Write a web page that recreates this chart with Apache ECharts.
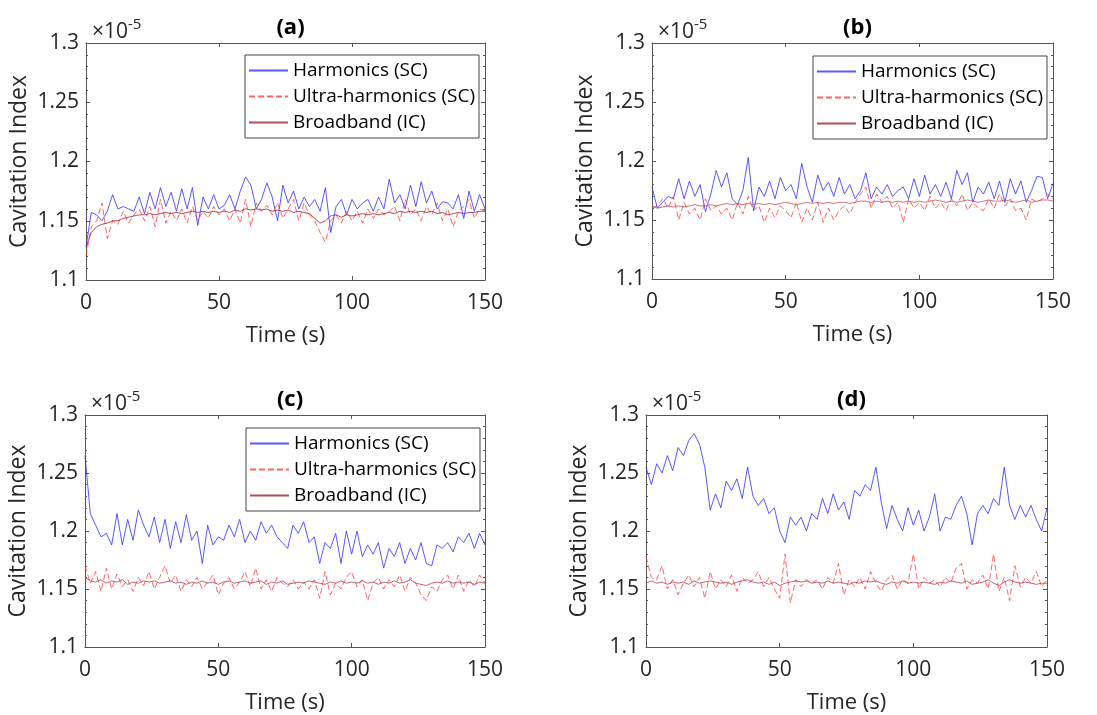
<!DOCTYPE html>
<html>
<head>
<meta charset="utf-8">
<script src="https://cdn.jsdelivr.net/npm/echarts@6/dist/echarts.min.js"></script>
<style>
html,body{margin:0;padding:0;background:#fff;}
#chart{width:1097px;height:715px;}
</style>
</head>
<body>
<div id="chart"></div>
<script>
// ---------- DATA (values in units of 1e-5) ----------
const time = [0,2,4,6,8,10,12,14,16,18,
  20,22,24,26,28,30,32,34,36,38,
  40,42,44,46,48,50,52,54,56,58,
  60,62,64,66,68,70,72,74,76,78,
  80,82,84,86,88,90,92,94,96,98,
  100,102,104,106,108,110,112,114,116,118,
  120,122,124,126,128,130,132,134,136,138,
  140,142,144,146,148,150];

const xTicks = [0, 50, 100, 150];
const yTicks = [1.1, 1.15, 1.2, 1.25, 1.3];
const seriesNames = ['Harmonics (SC)', 'Ultra-harmonics (SC)', 'Broadband (IC)'];
const panelTitles = ['(a)', '(b)', '(c)', '(d)'];

// Panel (a)
const harmA = [1.128,1.157,1.155,1.150,1.158,1.172,1.160,1.162,1.160,1.158,
  1.170,1.156,1.174,1.160,1.178,1.162,1.174,1.158,1.177,1.160,
  1.178,1.146,1.170,1.160,1.172,1.160,1.163,1.172,1.160,1.175,
  1.187,1.180,1.160,1.168,1.182,1.170,1.150,1.180,1.165,1.175,
  1.160,1.170,1.162,1.168,1.158,1.178,1.140,1.162,1.168,1.155,
  1.168,1.160,1.165,1.168,1.158,1.170,1.160,1.185,1.165,1.172,
  1.160,1.180,1.162,1.183,1.165,1.175,1.160,1.166,1.165,1.160,
  1.172,1.152,1.175,1.158,1.172,1.160];
const ultraA = [1.120,1.145,1.150,1.165,1.135,1.150,1.147,1.158,1.148,1.155,
  1.160,1.150,1.162,1.145,1.168,1.148,1.158,1.150,1.160,1.148,
  1.162,1.150,1.158,1.152,1.162,1.155,1.160,1.150,1.160,1.148,
  1.168,1.145,1.165,1.158,1.163,1.155,1.165,1.152,1.160,1.168,
  1.150,1.165,1.155,1.150,1.140,1.132,1.150,1.155,1.148,1.158,
  1.150,1.158,1.148,1.160,1.152,1.160,1.155,1.158,1.162,1.150,
  1.168,1.155,1.160,1.150,1.162,1.155,1.165,1.150,1.160,1.145,
  1.158,1.162,1.168,1.152,1.160,1.158];
const broadA = [1.128,1.140,1.145,1.147,1.148,1.150,1.150,1.152,1.153,1.154,
  1.155,1.155,1.156,1.155,1.156,1.157,1.156,1.157,1.156,1.157,
  1.158,1.157,1.158,1.157,1.158,1.157,1.158,1.157,1.159,1.158,
  1.160,1.159,1.160,1.159,1.160,1.158,1.159,1.158,1.159,1.157,
  1.158,1.157,1.156,1.152,1.148,1.150,1.154,1.155,1.153,1.155,
  1.154,1.155,1.156,1.155,1.156,1.155,1.156,1.157,1.156,1.158,
  1.157,1.158,1.157,1.158,1.157,1.158,1.156,1.157,1.155,1.156,
  1.157,1.156,1.157,1.157,1.158,1.158];

// Panel (b)
const harmB = [1.178,1.160,1.165,1.170,1.168,1.185,1.168,1.183,1.170,1.180,
  1.157,1.172,1.192,1.178,1.190,1.168,1.163,1.175,1.203,1.158,
  1.178,1.170,1.183,1.168,1.186,1.175,1.180,1.168,1.198,1.178,
  1.165,1.188,1.175,1.182,1.170,1.186,1.172,1.180,1.168,1.175,
  1.190,1.168,1.178,1.172,1.180,1.170,1.175,1.178,1.168,1.185,
  1.170,1.188,1.172,1.180,1.170,1.182,1.168,1.192,1.180,1.190,
  1.165,1.178,1.172,1.182,1.168,1.183,1.165,1.185,1.172,1.183,
  1.165,1.175,1.187,1.186,1.168,1.181];
const ultraB = [1.160,1.162,1.168,1.160,1.170,1.150,1.165,1.155,1.160,1.150,
  1.168,1.158,1.162,1.155,1.160,1.150,1.165,1.155,1.170,1.158,
  1.162,1.148,1.160,1.152,1.162,1.158,1.152,1.165,1.148,1.160,
  1.150,1.165,1.148,1.160,1.150,1.158,1.162,1.155,1.165,1.172,
  1.178,1.160,1.172,1.165,1.170,1.160,1.165,1.148,1.168,1.160,
  1.165,1.158,1.170,1.160,1.165,1.158,1.168,1.162,1.172,1.158,
  1.165,1.160,1.158,1.168,1.160,1.172,1.162,1.168,1.158,1.160,
  1.150,1.168,1.165,1.168,1.172,1.168];
const broadB = [1.162,1.160,1.161,1.162,1.161,1.162,1.161,1.162,1.163,1.162,
  1.162,1.163,1.162,1.163,1.164,1.163,1.164,1.163,1.164,1.163,
  1.164,1.163,1.164,1.163,1.164,1.165,1.164,1.163,1.164,1.165,
  1.164,1.165,1.164,1.165,1.164,1.165,1.165,1.164,1.165,1.166,
  1.166,1.165,1.166,1.165,1.166,1.165,1.166,1.165,1.166,1.165,
  1.166,1.165,1.166,1.167,1.166,1.165,1.166,1.165,1.166,1.167,
  1.166,1.165,1.166,1.167,1.166,1.166,1.167,1.166,1.165,1.166,
  1.167,1.165,1.166,1.167,1.167,1.166];

// Panel (c)
const harmC = [1.265,1.215,1.205,1.195,1.198,1.188,1.215,1.188,1.210,1.192,
  1.218,1.205,1.195,1.212,1.190,1.210,1.185,1.208,1.190,1.214,
  1.192,1.200,1.172,1.205,1.188,1.195,1.192,1.205,1.195,1.210,
  1.190,1.200,1.192,1.208,1.198,1.205,1.195,1.190,1.185,1.205,
  1.198,1.208,1.190,1.195,1.172,1.190,1.185,1.198,1.172,1.200,
  1.180,1.200,1.178,1.188,1.180,1.190,1.168,1.185,1.178,1.190,
  1.172,1.185,1.175,1.190,1.172,1.170,1.188,1.185,1.190,1.182,
  1.195,1.190,1.198,1.185,1.198,1.188];
const ultraC = [1.170,1.155,1.165,1.148,1.168,1.150,1.163,1.152,1.158,1.148,
  1.160,1.153,1.165,1.150,1.160,1.170,1.155,1.162,1.148,1.158,
  1.152,1.160,1.150,1.156,1.162,1.145,1.155,1.160,1.150,1.156,
  1.165,1.152,1.168,1.150,1.158,1.148,1.160,1.155,1.152,1.158,
  1.150,1.156,1.150,1.158,1.142,1.165,1.145,1.155,1.150,1.160,
  1.165,1.152,1.158,1.140,1.155,1.160,1.150,1.158,1.152,1.162,
  1.148,1.160,1.155,1.145,1.140,1.152,1.148,1.158,1.162,1.150,
  1.162,1.148,1.158,1.152,1.162,1.155];
const broadC = [1.160,1.157,1.156,1.158,1.155,1.157,1.156,1.158,1.154,1.156,
  1.155,1.157,1.156,1.157,1.155,1.156,1.157,1.155,1.156,1.154,
  1.156,1.155,1.157,1.155,1.156,1.154,1.156,1.157,1.155,1.156,
  1.157,1.155,1.156,1.157,1.154,1.156,1.155,1.157,1.154,1.155,
  1.156,1.155,1.157,1.156,1.155,1.154,1.156,1.155,1.157,1.155,
  1.156,1.155,1.157,1.155,1.156,1.154,1.156,1.155,1.157,1.155,
  1.156,1.158,1.155,1.154,1.153,1.155,1.156,1.155,1.157,1.155,
  1.156,1.155,1.156,1.154,1.156,1.155];

// Panel (d)
const harmD = [1.255,1.240,1.258,1.250,1.265,1.252,1.272,1.265,1.278,1.284,
  1.275,1.255,1.218,1.232,1.220,1.243,1.235,1.245,1.228,1.255,
  1.230,1.222,1.228,1.215,1.220,1.200,1.190,1.212,1.205,1.212,
  1.200,1.215,1.210,1.228,1.215,1.232,1.218,1.225,1.210,1.235,
  1.230,1.240,1.235,1.255,1.225,1.202,1.222,1.210,1.200,1.220,
  1.205,1.218,1.200,1.212,1.232,1.200,1.212,1.210,1.222,1.230,
  1.215,1.188,1.215,1.222,1.215,1.228,1.222,1.255,1.222,1.210,
  1.222,1.212,1.222,1.210,1.200,1.220];
const ultraD = [1.178,1.160,1.158,1.170,1.150,1.158,1.145,1.155,1.162,1.152,
  1.160,1.142,1.165,1.150,1.158,1.152,1.162,1.148,1.160,1.155,
  1.158,1.165,1.152,1.160,1.150,1.142,1.180,1.138,1.158,1.152,
  1.158,1.155,1.158,1.150,1.160,1.155,1.172,1.145,1.158,1.152,
  1.160,1.150,1.165,1.155,1.148,1.158,1.162,1.150,1.158,1.155,
  1.180,1.150,1.160,1.155,1.158,1.152,1.160,1.155,1.168,1.172,
  1.150,1.158,1.155,1.162,1.150,1.180,1.148,1.160,1.140,1.170,
  1.152,1.160,1.155,1.165,1.152,1.158];
const broadD = [1.155,1.157,1.155,1.156,1.154,1.156,1.155,1.156,1.154,1.157,
  1.155,1.156,1.157,1.156,1.155,1.156,1.154,1.156,1.157,1.158,
  1.156,1.155,1.156,1.154,1.156,1.153,1.155,1.156,1.157,1.156,
  1.157,1.155,1.156,1.155,1.157,1.155,1.156,1.155,1.154,1.156,
  1.155,1.157,1.156,1.157,1.155,1.154,1.156,1.155,1.157,1.155,
  1.156,1.155,1.156,1.155,1.154,1.156,1.155,1.157,1.156,1.155,
  1.157,1.154,1.155,1.156,1.158,1.155,1.153,1.156,1.158,1.156,
  1.155,1.156,1.155,1.154,1.155,1.155];

// ---------- LAYOUT / STYLE ----------
const FONT = '"Open Sans", "Noto Sans", sans-serif';
const TXT = '#262626';
const AXC = '#555555';
const panels = [
  {grid:{left:86, top:43, width:399, height:237}, data:[harmA, ultraA, broadA], broadColor:'#a0303c', legend:{left:245, top:55}},
  {grid:{left:652, top:43, width:401, height:236}, data:[harmB, ultraB, broadB], broadColor:'#c25a6c', legend:{left:813, top:56}},
  {grid:{left:85, top:415, width:400, height:235}, data:[harmC, ultraC, broadC], broadColor:'#b9485c', legend:{left:246, top:428}},
  {grid:{left:646, top:415, width:401, height:235}, data:[harmD, ultraD, broadD], broadColor:'#b9485c', legend:null}
];

const option = {
  backgroundColor:'#fff',
  animation:false,
  textStyle:{fontFamily:FONT},
  grid:[], xAxis:[], yAxis:[], series:[], legend:[], title:[]
};

panels.forEach((p, k) => {
  option.grid.push(Object.assign({containLabel:false}, p.grid));
  const tickStyle = {show:true, inside:true, length:4, lineStyle:{color:AXC}};
  const lineSt = {show:true, onZero:false, lineStyle:{color:AXC, width:1}};
  // primary x
  option.xAxis.push({
    type:'value', gridIndex:k, min:xTicks[0], max:xTicks[xTicks.length-1], interval:50,
    position:'bottom', axisLine:lineSt, axisTick:tickStyle, splitLine:{show:false},
    axisLabel:{color:TXT, fontSize:21, margin:13, fontFamily:FONT},
    name:'Time (s)', nameLocation:'middle', nameGap:45,
    nameTextStyle:{color:TXT, fontSize:22, fontFamily:FONT}
  });
  // mirrored top x
  option.xAxis.push({
    type:'value', gridIndex:k, min:xTicks[0], max:xTicks[xTicks.length-1], interval:50,
    position:'top', axisLine:lineSt, axisTick:tickStyle, splitLine:{show:false},
    axisLabel:{show:false}
  });
  // primary y
  option.yAxis.push({
    type:'value', gridIndex:k, min:yTicks[0], max:yTicks[yTicks.length-1], interval:0.05,
    position:'left', axisLine:lineSt, axisTick:tickStyle,
    minorTick:{show:true, splitNumber:5, length:2, lineStyle:{color:AXC}},
    splitLine:{show:false},
    axisLabel:{color:TXT, fontSize:21, margin:7, fontFamily:FONT,
      formatter: v => String(+v.toFixed(2))},
    name:'Cavitation Index', nameLocation:'middle', nameGap:55,
    nameTextStyle:{color:TXT, fontSize:23, fontFamily:FONT}
  });
  // mirrored right y
  option.yAxis.push({
    type:'value', gridIndex:k, min:yTicks[0], max:yTicks[yTicks.length-1], interval:0.05,
    position:'right', axisLine:lineSt, axisTick:tickStyle,
    minorTick:{show:true, splitNumber:5, length:2, lineStyle:{color:AXC}},
    splitLine:{show:false}, axisLabel:{show:false}
  });

  const xi = k*2, yi = k*2;
  const styles = [
    {color:'#3030ff', type:'solid', opacity:0.8},
    {color:'#ff3030', type:[6,3], opacity:0.75},
    {color:p.broadColor, type:'solid', opacity:0.85}
  ];
  seriesNames.forEach((nm, j) => {
    option.series.push({
      type:'line', name:nm, xAxisIndex:xi, yAxisIndex:yi,
      data: time.map((t, i) => [t, p.data[j][i]]),
      symbol:'none', showSymbol:false, smooth:false,
      lineStyle:{width:1, color:styles[j].color, type:styles[j].type, opacity:styles[j].opacity},
      itemStyle:{color:styles[j].color},
      z: 2 + j
    });
  });

  if (p.legend) {
    option.legend.push({
      left:p.legend.left, top:p.legend.top, orient:'vertical',
      data:seriesNames, itemWidth:39, itemHeight:14, itemGap:5,
      itemStyle:{opacity:0, borderWidth:0},
      padding:[5, 4, 5, 3], borderColor:'#444', borderWidth:1, backgroundColor:'#fff',
      selectedMode:false,
      textStyle:{color:'#000', fontSize:19, fontFamily:FONT, lineHeight:21},
      z:10
    });
  }

  const g = p.grid;
  option.title.push({
    text: panelTitles[k], left: g.left + g.width/2, top: g.top - 31, textAlign:'center',
    textStyle:{fontSize:22, fontWeight:'bold', color:'#000', fontFamily:FONT}
  });
  option.title.push({
    text: '{m|×10}{s|-5}', left: g.left + 1, top: g.top - 31,
    textStyle:{fontWeight:'normal', rich:{
      m:{fontSize:21, fontWeight:'normal', color:TXT, fontFamily:FONT, verticalAlign:'bottom', lineHeight:26},
      s:{fontSize:15, fontWeight:'normal', color:TXT, fontFamily:FONT, verticalAlign:'top', lineHeight:26, padding:[0,0,12,0]}
    }}
  });
});

const chart = echarts.init(document.getElementById('chart'), null, {renderer:'canvas'});
chart.setOption(option);
</script>
</body>
</html>
